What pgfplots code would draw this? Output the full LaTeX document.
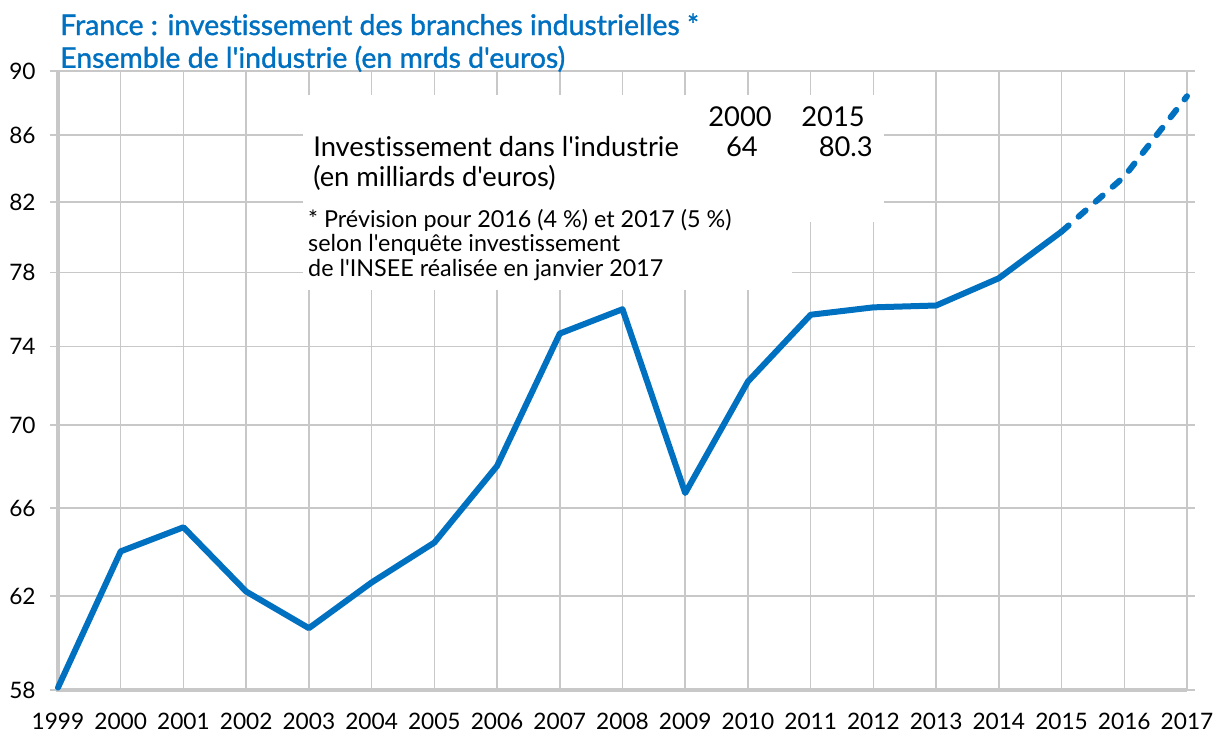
\documentclass[border=0pt]{standalone}
\usepackage{fontspec}
\setmainfont{Lato}
\newfontfamily\corps{Lato}[Ligatures=NoCommon]
\newfontfamily\titlefont{Lato}[FakeBold=1.2, Ligatures=NoCommon]
\usepackage{pgfplots}
\pgfplotsset{compat=1.18}
\definecolor{bleu}{HTML}{0070C0}
\definecolor{grille}{HTML}{C8C8C8}

\begin{document}
\begin{tikzpicture}
\begin{axis}[
    scale only axis,
    width=846.75pt, height=464.25pt,
    xmin=1999, xmax=2017,
    ymode=log, ymin=58, ymax=90,
    xtick={1999,2000,...,2017},
    ytick={58,62,66,70,74,78,82,86,90},
    yticklabels={58,62,66,70,74,78,82,86,90},
    xticklabel style={/pgf/number format/1000 sep={}},
    /pgf/number format/assume math mode=true,
    ticklabel style={font=\corps\fontsize{17}{20}\selectfont, text=black},
    xticklabel style={yshift=-10pt},
    yticklabel style={xshift=-9pt},
    xmajorgrids, ymajorgrids,
    major grid style={grille, line width=1.1pt},
    axis line style={grille, line width=1.5pt},
    tick align=outside,
    xtick style={draw=none},
    ytick style={/pgfplots/major tick length=6pt, grille, line width=1.1pt},
    clip=false,
]
% cadre plus épais à gauche et en bas
\draw[grille, line width=2.4pt] (rel axis cs:0,1) -- (rel axis cs:0,0) -- (rel axis cs:1,0);

% encadré blanc
\fill[white] (rel axis cs:0.2170,0.7561) rectangle (rel axis cs:0.7316,0.9612);
\fill[white] (rel axis cs:0.2170,0.6462) rectangle (rel axis cs:0.6501,0.7580);

\addplot[bleu, line width=4.5pt, line join=round, line cap=round] coordinates {
    (1999,58.1) (2000,64.0) (2001,65.1) (2002,62.2) (2003,60.6)
    (2004,62.6) (2005,64.4) (2006,68.0) (2007,74.7) (2008,76.0)
    (2009,66.7) (2010,72.2) (2011,75.7) (2012,76.1) (2013,76.2)
    (2014,77.7) (2015,80.3)
};
\addplot[bleu, line width=4.5pt, line cap=round, dash pattern=on 7pt off 10pt] coordinates {
    (2015,80.3) (2016,83.5) (2017,88.4)
};

\begin{scope}[font=\corps\fontsize{20.5}{24}\selectfont]
\node[anchor=base east, inner sep=0pt] at (rel axis cs:0.6324,0.9095) {2000};
\node[anchor=base east, inner sep=0pt] at (rel axis cs:0.7148,0.9095) {2015};
\node[anchor=base west, inner sep=0pt] at (rel axis cs:0.2259,0.8611) {Investissement dans l'industrie};
\node[anchor=base east, inner sep=0pt] at (rel axis cs:0.6200,0.8611) {64};
\node[anchor=base east, inner sep=0pt] at (rel axis cs:0.7219,0.8611) {80.3};
\node[anchor=base west, inner sep=0pt] at (rel axis cs:0.2259,0.8126) {(en milliards d'euros)};
\end{scope}
\begin{scope}[font=\corps\fontsize{17.5}{20}\selectfont]
\node[anchor=base west, inner sep=0pt] at (rel axis cs:0.2214,0.7464) {* Prévision pour 2016 (4 \%) et 2017 (5 \%)};
\node[anchor=base west, inner sep=0pt] at (rel axis cs:0.2214,0.7076) {selon l'enquête investissement};
\node[anchor=base west, inner sep=0pt] at (rel axis cs:0.2214,0.6672) {de l'INSEE réalisée en janvier 2017};
\end{scope}

% titre
\node[anchor=base west, inner sep=0pt, text=bleu, font=\titlefont\fontsize{21.3}{25}\selectfont]
    at (rel axis cs:0.0018,1.058) {France : investissement des branches industrielles *};
\node[anchor=base west, inner sep=0pt, text=bleu, font=\titlefont\fontsize{21.3}{25}\selectfont]
    at (rel axis cs:0.0018,1.005) {Ensemble de l'industrie (en mrds d'euros)};
\end{axis}
\pgfresetboundingbox
\path ([shift={(-43.5pt,-35.25pt)}]current axis.south west) rectangle ([shift={(21.75pt,53.25pt)}]current axis.north east);
\end{tikzpicture}
\end{document}
